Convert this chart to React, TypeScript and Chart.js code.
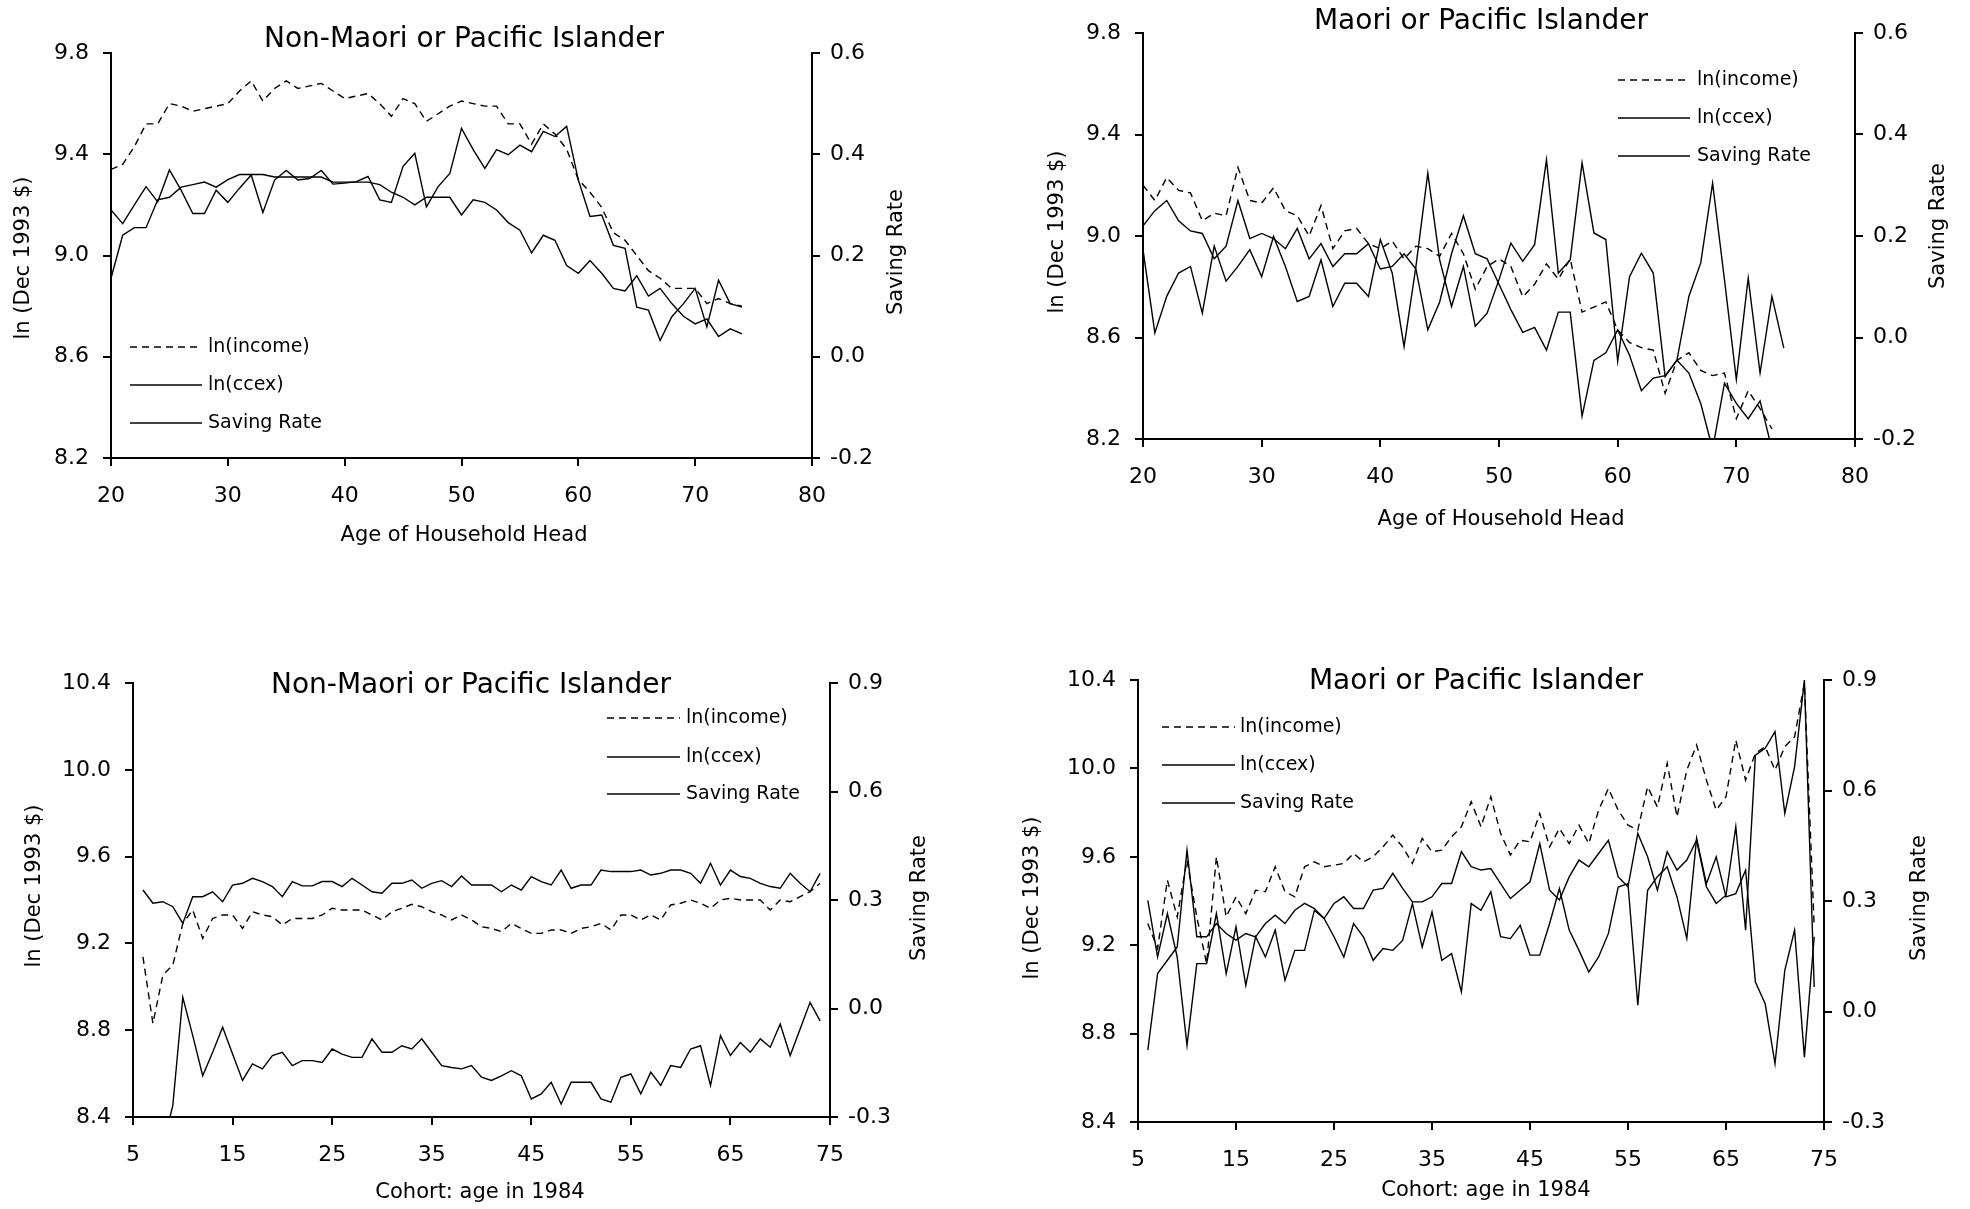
import React, { useEffect, useRef } from "react";
import { Chart, registerables } from "chart.js";

Chart.register(...registerables);

const FONT = "'DejaVu Sans', 'Liberation Sans', Arial, sans-serif";

// ---------- shared labels ----------
const SERIES_LABELS = ["ln(income)", "ln(ccex)", "Saving Rate"];
const TITLE_NON = "Non-Maori or Pacific Islander";
const TITLE_MAORI = "Maori or Pacific Islander";
const Y_LEFT_TITLE = "ln (Dec 1993 $)";
const Y_RIGHT_TITLE = "Saving Rate";
const X_TITLE_AGE = "Age of Household Head";
const X_TITLE_COHORT = "Cohort: age in 1984";

// ---------- x categories ----------
const AGES = [20, 21, 22, 23, 24, 25, 26, 27, 28, 29, 30, 31, 32, 33, 34, 35, 36, 37, 38, 39, 40, 41, 42, 43, 44, 45, 46, 47, 48, 49, 50, 51, 52, 53, 54, 55, 56, 57, 58, 59, 60, 61, 62, 63, 64, 65, 66, 67, 68, 69, 70, 71, 72, 73, 74];
const COHORTS = [6, 7, 8, 9, 10, 11, 12, 13, 14, 15, 16, 17, 18, 19, 20, 21, 22, 23, 24, 25, 26, 27, 28, 29, 30, 31, 32, 33, 34, 35, 36, 37, 38, 39, 40, 41, 42, 43, 44, 45, 46, 47, 48, 49, 50, 51, 52, 53, 54, 55, 56, 57, 58, 59, 60, 61, 62, 63, 64, 65, 66, 67, 68, 69, 70, 71, 72, 73, 74];

// ---------- Panel 1: Non-Maori, by age ----------
const P1_INCOME = [9.34, 9.36, 9.43, 9.52, 9.52, 9.60, 9.59, 9.57, 9.58, 9.59, 9.60, 9.65, 9.69, 9.61, 9.66, 9.69, 9.66, 9.67, 9.68, 9.65, 9.62, 9.63, 9.64, 9.60, 9.55, 9.62, 9.60, 9.53, 9.56, 9.59, 9.61, 9.60, 9.59, 9.59, 9.52, 9.52, 9.44, 9.52, 9.48, 9.42, 9.30, 9.25, 9.19, 9.09, 9.06, 9.00, 8.94, 8.91, 8.87, 8.87, 8.87, 8.81, 8.83, 8.81, 8.80];
const P1_CCEX = [8.91, 9.08, 9.11, 9.11, 9.22, 9.23, 9.27, 9.28, 9.29, 9.27, 9.30, 9.32, 9.32, 9.32, 9.31, 9.31, 9.31, 9.31, 9.31, 9.29, 9.29, 9.29, 9.29, 9.28, 9.25, 9.23, 9.20, 9.23, 9.23, 9.23, 9.16, 9.22, 9.21, 9.18, 9.13, 9.10, 9.01, 9.08, 9.06, 8.96, 8.93, 8.98, 8.93, 8.87, 8.86, 8.92, 8.84, 8.87, 8.81, 8.76, 8.73, 8.75, 8.68, 8.71, 8.69];
const P1_SAVING = [0.290, 0.263, 0.300, 0.336, 0.306, 0.369, 0.329, 0.283, 0.283, 0.329, 0.305, 0.333, 0.359, 0.285, 0.349, 0.368, 0.349, 0.352, 0.368, 0.341, 0.343, 0.346, 0.356, 0.310, 0.305, 0.376, 0.402, 0.296, 0.336, 0.362, 0.451, 0.409, 0.372, 0.409, 0.399, 0.418, 0.405, 0.445, 0.435, 0.455, 0.349, 0.277, 0.280, 0.220, 0.214, 0.098, 0.092, 0.032, 0.079, 0.105, 0.135, 0.059, 0.151, 0.105, 0.098];

// ---------- Panel 2: Maori, by age ----------
const P2_INCOME = [9.20, 9.14, 9.23, 9.18, 9.17, 9.06, 9.09, 9.08, 9.27, 9.14, 9.13, 9.19, 9.10, 9.08, 9.00, 9.12, 8.95, 9.02, 9.03, 8.97, 8.95, 8.98, 8.91, 8.96, 8.95, 8.92, 9.01, 8.93, 8.79, 8.88, 8.91, 8.88, 8.76, 8.81, 8.89, 8.83, 8.91, 8.70, 8.72, 8.74, 8.63, 8.58, 8.56, 8.55, 8.38, 8.51, 8.54, 8.47, 8.45, 8.46, 8.28, 8.39, 8.32, 8.24, null];
const P2_CCEX = [9.04, 9.10, 9.14, 9.06, 9.02, 9.01, 8.91, 8.96, 9.14, 8.99, 9.01, 8.99, 8.95, 9.03, 8.91, 8.97, 8.88, 8.93, 8.93, 8.97, 8.87, 8.88, 8.93, 8.87, 8.63, 8.74, 8.93, 9.08, 8.93, 8.91, 8.81, 8.71, 8.62, 8.64, 8.55, 8.70, 8.70, 8.29, 8.51, 8.54, 8.63, 8.53, 8.39, 8.44, 8.45, 8.51, 8.46, 8.34, 8.16, 8.42, 8.34, 8.28, 8.35, 8.16, null];
const P2_SAVING = [0.173, 0.009, 0.081, 0.127, 0.140, 0.048, 0.180, 0.111, 0.140, 0.173, 0.120, 0.199, 0.140, 0.071, 0.081, 0.153, 0.061, 0.107, 0.107, 0.081, 0.193, 0.127, -0.018, 0.140, 0.324, 0.153, 0.061, 0.140, 0.022, 0.048, 0.114, 0.186, 0.150, 0.183, 0.350, 0.127, 0.153, 0.344, 0.206, 0.193, -0.047, 0.120, 0.166, 0.127, -0.077, -0.044, 0.081, 0.147, 0.304, 0.114, -0.083, 0.117, -0.070, 0.081, -0.021];

// ---------- Panel 3: Non-Maori, by cohort ----------
const P3_INCOME = [9.138, 8.831, 9.054, 9.10, 9.292, 9.354, 9.223, 9.315, 9.331, 9.331, 9.269, 9.346, 9.331, 9.323, 9.285, 9.315, 9.315, 9.315, 9.331, 9.362, 9.354, 9.354, 9.354, 9.331, 9.308, 9.346, 9.362, 9.38, 9.369, 9.346, 9.331, 9.308, 9.331, 9.308, 9.277, 9.269, 9.254, 9.292, 9.269, 9.246, 9.246, 9.262, 9.262, 9.246, 9.269, 9.277, 9.292, 9.262, 9.331, 9.331, 9.308, 9.331, 9.308, 9.377, 9.385, 9.40, 9.385, 9.362, 9.40, 9.408, 9.40, 9.40, 9.40, 9.354, 9.40, 9.392, 9.415, 9.438, 9.477];
const P3_CCEX = [9.446, 9.385, 9.392, 9.369, 9.292, 9.415, 9.415, 9.438, 9.392, 9.469, 9.477, 9.50, 9.485, 9.462, 9.415, 9.485, 9.465, 9.465, 9.485, 9.485, 9.462, 9.50, 9.469, 9.438, 9.431, 9.477, 9.477, 9.492, 9.454, 9.477, 9.489, 9.462, 9.511, 9.469, 9.469, 9.469, 9.438, 9.469, 9.446, 9.508, 9.485, 9.469, 9.538, 9.454, 9.469, 9.469, 9.538, 9.531, 9.531, 9.531, 9.538, 9.515, 9.523, 9.538, 9.538, 9.523, 9.477, 9.569, 9.469, 9.538, 9.508, 9.50, 9.477, 9.462, 9.454, 9.523, 9.477, 9.438, 9.523];
const P3_SAVING = [-0.45, -0.42, -0.38, -0.268, 0.031, -0.075, -0.186, -0.121, -0.052, -0.126, -0.199, -0.153, -0.167, -0.130, -0.121, -0.158, -0.144, -0.144, -0.149, -0.112, -0.126, -0.135, -0.135, -0.084, -0.121, -0.121, -0.103, -0.112, -0.084, -0.121, -0.158, -0.163, -0.167, -0.158, -0.190, -0.199, -0.186, -0.172, -0.186, -0.250, -0.236, -0.204, -0.264, -0.204, -0.204, -0.204, -0.250, -0.259, -0.190, -0.181, -0.236, -0.176, -0.213, -0.158, -0.163, -0.112, -0.103, -0.213, -0.075, -0.130, -0.094, -0.121, -0.084, -0.107, -0.043, -0.130, -0.057, 0.017, -0.034];

// ---------- Panel 4: Maori, by cohort ----------
const P4_INCOME = [9.298, 9.185, 9.494, 9.328, 9.585, 9.328, 9.117, 9.60, 9.328, 9.419, 9.343, 9.449, 9.442, 9.555, 9.442, 9.419, 9.555, 9.577, 9.555, 9.562, 9.570, 9.615, 9.577, 9.60, 9.645, 9.698, 9.645, 9.570, 9.683, 9.623, 9.630, 9.691, 9.736, 9.849, 9.736, 9.872, 9.706, 9.608, 9.675, 9.668, 9.796, 9.645, 9.728, 9.660, 9.743, 9.660, 9.811, 9.909, 9.811, 9.743, 9.721, 9.917, 9.826, 10.023, 9.781, 9.992, 10.106, 9.947, 9.811, 9.872, 10.128, 9.947, 10.068, 10.098, 9.992, 10.098, 10.143, 10.385, 9.283];
const P4_CCEX = [8.725, 9.072, 9.132, 9.192, 9.630, 9.238, 9.238, 9.298, 9.253, 9.223, 9.253, 9.238, 9.298, 9.336, 9.298, 9.358, 9.389, 9.366, 9.321, 9.389, 9.419, 9.366, 9.366, 9.449, 9.457, 9.525, 9.457, 9.396, 9.396, 9.419, 9.479, 9.479, 9.623, 9.555, 9.540, 9.547, 9.479, 9.411, 9.449, 9.487, 9.660, 9.449, 9.404, 9.509, 9.585, 9.555, 9.615, 9.675, 9.509, 9.464, 9.706, 9.60, 9.449, 9.623, 9.540, 9.585, 9.675, 9.464, 9.389, 9.426, 9.736, 9.268, 10.060, 10.091, 10.166, 9.796, 10.008, 10.40, 9.011];
const P4_SAVING = [0.302, 0.148, 0.266, 0.148, -0.092, 0.130, 0.130, 0.266, 0.103, 0.230, 0.071, 0.203, 0.148, 0.221, 0.085, 0.166, 0.166, 0.275, 0.252, 0.203, 0.148, 0.239, 0.203, 0.139, 0.171, 0.166, 0.193, 0.293, 0.175, 0.270, 0.139, 0.157, 0.053, 0.293, 0.275, 0.325, 0.203, 0.198, 0.234, 0.153, 0.153, 0.239, 0.334, 0.221, 0.166, 0.107, 0.148, 0.212, 0.338, 0.347, 0.017, 0.329, 0.366, 0.393, 0.311, 0.198, 0.470, 0.347, 0.420, 0.311, 0.320, 0.384, 0.080, 0.021, -0.142, 0.112, 0.221, -0.124, 0.203];

// ---------- axis ranges ----------
const AGE_AXIS = { min: 20, max: 80, step: 10 };
const COHORT_AXIS = { min: 5, max: 75, step: 10 };
const TOP_LEFT_AXIS = { min: 8.2, max: 9.8, step: 0.4 };
const TOP_RIGHT_AXIS = { min: -0.2, max: 0.6, step: 0.2 };
const BOTTOM_LEFT_AXIS = { min: 8.4, max: 10.4, step: 0.4 };
const BOTTOM_RIGHT_AXIS = { min: -0.3, max: 0.9, step: 0.3 };

type Range = { min: number; max: number; step: number };
type PanelSpec = {
  left: number; top: number; w: number; h: number;
  area: { l: number; r: number; t: number; b: number };
  xs: number[]; income: (number | null)[]; ccex: (number | null)[]; saving: (number | null)[];
  xAxis: Range; yAxis: Range; y1Axis: Range;
  title: string; titlePos: [number, number];
  xTitle: string; xTitlePos: [number, number];
  yTitlePos: [number, number]; y1TitlePos: [number, number];
  legend: { x0: number; x1: number; tx: number; ys: number[] };
};

const PANELS: PanelSpec[] = [
  {
    left: 0, top: 0, w: 985, h: 605,
    area: { l: 111, r: 812, t: 53, b: 458 },
    xs: AGES, income: P1_INCOME, ccex: P1_CCEX, saving: P1_SAVING,
    xAxis: AGE_AXIS, yAxis: TOP_LEFT_AXIS, y1Axis: TOP_RIGHT_AXIS,
    title: TITLE_NON, titlePos: [464, 40],
    xTitle: X_TITLE_AGE, xTitlePos: [464, 536],
    yTitlePos: [24, 258], y1TitlePos: [897, 252],
    legend: { x0: 130, x1: 202, tx: 208, ys: [347, 385, 423] },
  },
  {
    left: 985, top: 0, w: 985, h: 605,
    area: { l: 158, r: 870, t: 33, b: 439 },
    xs: AGES, income: P2_INCOME, ccex: P2_CCEX, saving: P2_SAVING,
    xAxis: AGE_AXIS, yAxis: TOP_LEFT_AXIS, y1Axis: TOP_RIGHT_AXIS,
    title: TITLE_MAORI, titlePos: [496, 22],
    xTitle: X_TITLE_AGE, xTitlePos: [516, 520],
    yTitlePos: [73, 232], y1TitlePos: [954, 226],
    legend: { x0: 633, x1: 705, tx: 712, ys: [80, 118, 156] },
  },
  {
    left: 0, top: 605, w: 985, h: 604,
    area: { l: 133, r: 830, t: 78, b: 512 },
    xs: COHORTS, income: P3_INCOME, ccex: P3_CCEX, saving: P3_SAVING,
    xAxis: COHORT_AXIS, yAxis: BOTTOM_LEFT_AXIS, y1Axis: BOTTOM_RIGHT_AXIS,
    title: TITLE_NON, titlePos: [471, 81],
    xTitle: X_TITLE_COHORT, xTitlePos: [480, 588],
    yTitlePos: [35, 281], y1TitlePos: [920, 293],
    legend: { x0: 607, x1: 680, tx: 686, ys: [113, 152, 189] },
  },
  {
    left: 985, top: 605, w: 985, h: 604,
    area: { l: 153, r: 839, t: 75, b: 517 },
    xs: COHORTS, income: P4_INCOME, ccex: P4_CCEX, saving: P4_SAVING,
    xAxis: COHORT_AXIS, yAxis: BOTTOM_LEFT_AXIS, y1Axis: BOTTOM_RIGHT_AXIS,
    title: TITLE_MAORI, titlePos: [491, 77],
    xTitle: X_TITLE_COHORT, xTitlePos: [501, 586],
    yTitlePos: [48, 293], y1TitlePos: [935, 293],
    legend: { x0: 177, x1: 250, tx: 255, ys: [122, 160, 198] },
  },
];

const INCOME_DASH = [7, 5];

function points(xs: number[], ys: (number | null)[]) {
  return xs.map((x, i) => ({ x, y: ys[i] }));
}

function makeTextPlugin(spec: PanelSpec) {
  return {
    id: "panelText",
    afterDraw(chart: any) {
      const ctx: CanvasRenderingContext2D = chart.ctx;
      ctx.save();
      ctx.fillStyle = "#000";
      ctx.strokeStyle = "#000";
      ctx.textBaseline = "middle";
      ctx.textAlign = "center";
      // title
      ctx.font = `28px ${FONT}`;
      ctx.fillText(spec.title, spec.titlePos[0], spec.titlePos[1]);
      // x title
      ctx.font = `21px ${FONT}`;
      ctx.fillText(spec.xTitle, spec.xTitlePos[0], spec.xTitlePos[1]);
      // y titles (both read bottom-to-top)
      for (const [pos, text] of [[spec.yTitlePos, Y_LEFT_TITLE], [spec.y1TitlePos, Y_RIGHT_TITLE]] as [[number, number], string][]) {
        ctx.save();
        ctx.translate(pos[0], pos[1]);
        ctx.rotate(-Math.PI / 2);
        ctx.fillText(text, 0, 0);
        ctx.restore();
      }
      // legend
      const ds = chart.data.datasets;
      ctx.font = `19px ${FONT}`;
      ctx.textAlign = "left";
      ds.forEach((d: any, i: number) => {
        const y = spec.legend.ys[i];
        ctx.beginPath();
        ctx.lineWidth = 1.5;
        ctx.setLineDash(d.borderDash || []);
        ctx.moveTo(spec.legend.x0, y);
        ctx.lineTo(spec.legend.x1, y);
        ctx.stroke();
        ctx.setLineDash([]);
        ctx.fillText(d.label, spec.legend.tx, y);
      });
      ctx.restore();
    },
  };
}

function Panel({ spec }: { spec: PanelSpec }) {
  const ref = useRef<HTMLCanvasElement>(null);
  useEffect(() => {
    const canvas = ref.current;
    if (!canvas) return;
    const tickFont = { family: FONT, size: 22 };
    const grid = { drawOnChartArea: false, drawTicks: true, tickLength: 8, color: "#000", lineWidth: 2 };
    const border = { display: true, color: "#000", width: 2 };
    const fmt1 = (v: any) => Number(v).toFixed(1);
    const lineBase = { borderColor: "#000", borderWidth: 1.4, pointRadius: 0, tension: 0, fill: false, spanGaps: false };
    const chart = new Chart(canvas, {
      type: "line",
      data: {
        datasets: [
          { ...lineBase, label: SERIES_LABELS[0], data: points(spec.xs, spec.income), yAxisID: "y", borderDash: INCOME_DASH },
          { ...lineBase, label: SERIES_LABELS[1], data: points(spec.xs, spec.ccex), yAxisID: "y" },
          { ...lineBase, label: SERIES_LABELS[2], data: points(spec.xs, spec.saving), yAxisID: "y1" },
        ] as any,
      },
      options: {
        responsive: false,
        animation: false,
        devicePixelRatio: 1,
        events: [],
        layout: { padding: { top: spec.area.t, left: 0, right: 0, bottom: 0 } },
        plugins: { legend: { display: false }, title: { display: false }, tooltip: { enabled: false } },
        scales: {
          x: {
            type: "linear",
            min: spec.xAxis.min, max: spec.xAxis.max,
            ticks: { stepSize: spec.xAxis.step, font: tickFont, color: "#000", padding: 17, maxRotation: 0, autoSkip: false },
            grid, border,
            afterFit: (s: any) => { s.height = spec.h - spec.area.b; },
          },
          y: {
            type: "linear", position: "left",
            min: spec.yAxis.min, max: spec.yAxis.max,
            ticks: { stepSize: spec.yAxis.step, font: tickFont, color: "#000", padding: 14, callback: fmt1 },
            grid, border,
            afterFit: (s: any) => { s.width = spec.area.l; },
          },
          y1: {
            type: "linear", position: "right",
            min: spec.y1Axis.min, max: spec.y1Axis.max,
            ticks: { stepSize: spec.y1Axis.step, font: tickFont, color: "#000", padding: 10, callback: fmt1 },
            grid, border,
            afterFit: (s: any) => { s.width = spec.w - spec.area.r; },
          },
        },
      } as any,
      plugins: [makeTextPlugin(spec)],
    });
    return () => chart.destroy();
  }, [spec]);
  return (
    <canvas
      ref={ref}
      width={spec.w}
      height={spec.h}
      style={{ position: "absolute", left: spec.left, top: spec.top, width: spec.w, height: spec.h }}
    />
  );
}

export default function App() {
  return (
    <div style={{ position: "absolute", left: 0, top: 0, width: 1970, height: 1209, background: "#fff", overflow: "hidden" }}>
      {PANELS.map((p, i) => (
        <Panel key={i} spec={p} />
      ))}
    </div>
  );
}
